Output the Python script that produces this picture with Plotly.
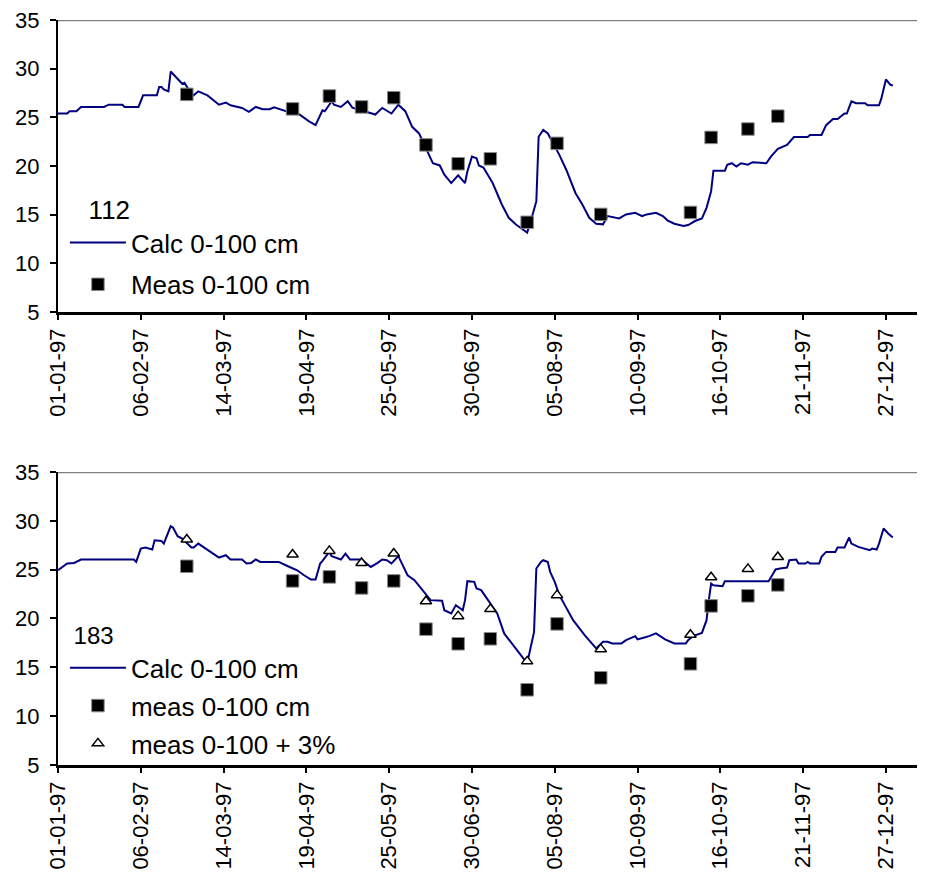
import pandas as pd
import plotly.graph_objects as go
from plotly.subplots import make_subplots

START = pd.Timestamp("1997-01-01")

# ---- Data (day offsets from 01-01-97, values in vol%) ----
meas_days = [56, 102, 118, 132, 146, 160, 174, 188, 204, 217, 236, 275, 284, 300, 313]

# Site 112
calc112_days = [0, 4, 5, 8, 10, 20, 22, 28, 29, 35, 37, 43, 44, 45, 46, 48, 49, 51, 54, 55, 57, 59,
                61, 65, 70, 73, 75, 80, 83, 86, 89, 92, 94, 100, 105, 109, 112, 115, 116, 119, 120,
                123, 126, 128, 133, 138, 141, 145, 148, 151, 154, 157, 160, 163, 166, 168, 171, 174,
                177, 178, 180, 182, 183, 185, 189, 193, 196, 199, 202, 204, 206, 208, 209, 210, 211,
                213, 215, 218, 221, 225, 228, 231, 234, 237, 239, 244, 247, 251, 254, 256, 260, 263,
                265, 268, 272, 274, 277, 280, 282, 284, 285, 290, 291, 293, 295, 297, 300, 302, 308,
                310, 313, 317, 320, 326, 327, 332, 334, 337, 339, 342, 343, 345, 347, 351, 352, 357,
                358, 360, 362, 363]
calc112_vals = [25.39, 25.39, 25.63, 25.63, 26.07, 26.07, 26.30, 26.30, 26.07, 26.07, 27.26, 27.26,
                28.11, 28.11, 27.87, 27.67, 29.71, 29.23, 28.45, 28.55, 27.77, 27.26, 27.67, 27.26,
                26.30, 26.51, 26.24, 25.97, 25.56, 26.07, 25.84, 25.84, 26.04, 25.56, 25.29, 24.61,
                24.20, 25.73, 25.63, 26.65, 26.30, 26.07, 26.65, 26.00, 25.63, 25.29, 25.97, 25.39,
                26.30, 25.63, 24.03, 23.35, 21.82, 20.29, 20.06, 19.11, 18.25, 19.04, 18.25, 19.44,
                20.97, 20.80, 20.06, 19.85, 18.25, 16.05, 14.68, 14.01, 13.50, 13.16, 14.68, 16.39,
                23.01, 23.35, 23.70, 23.35, 22.50, 21.15, 19.62, 17.23, 16.05, 14.68, 14.07, 14.01,
                14.86, 14.62, 15.03, 15.19, 14.86, 15.03, 15.19, 14.86, 14.42, 14.07, 13.84, 13.94,
                14.35, 14.62, 15.70, 17.41, 19.52, 19.52, 20.13, 20.29, 19.95, 20.29, 20.13, 20.39,
                20.29, 20.97, 21.76, 22.17, 22.98, 22.98, 23.19, 23.19, 24.20, 24.82, 24.82, 25.39,
                25.39, 26.65, 26.45, 26.45, 26.24, 26.24, 26.92, 28.89, 28.34, 28.28]
meas112_vals = [27.36, 25.87, 27.19, 26.07, 27.02, 22.17, 20.23, 20.74, 14.22, 22.33, 15.03,
                15.23, 22.94, 23.80, 25.12]

# Site 183
calc183_days = [0, 1, 4, 7, 8, 10, 33, 34, 36, 38, 41, 42, 45, 46, 49, 50, 52, 54, 58, 59, 61, 65,
                70, 73, 75, 80, 82, 84, 86, 88, 92, 96, 100, 104, 107, 110, 112, 114, 115, 118, 119,
                123, 125, 127, 132, 136, 139, 141, 143, 145, 148, 152, 155, 159, 162, 167, 168, 171,
                173, 176, 177, 178, 181, 182, 184, 187, 191, 194, 199, 204, 207, 208, 210, 211, 213,
                214, 216, 218, 224, 229, 234, 237, 239, 241, 245, 247, 251, 252, 255, 257, 260, 262,
                264, 268, 273, 274, 276, 280, 282, 283, 284, 285, 289, 290, 309, 311, 312, 314, 317,
                318, 321, 322, 325, 326, 327, 331, 332, 334, 338, 339, 342, 344, 345, 348, 351, 353,
                354, 356, 357, 359, 361, 363]
calc183_vals = [24.94, 25.12, 25.63, 25.69, 25.79, 26.04, 26.04, 25.79, 27.16, 27.27, 27.06, 28.01,
                27.94, 27.67, 29.44, 29.31, 28.42, 28.19, 27.27, 27.27, 27.67, 27.06, 26.24, 26.48,
                26.04, 26.04, 25.63, 25.69, 26.04, 25.79, 25.79, 25.79, 25.35, 24.94, 24.43, 23.99,
                23.99, 25.63, 25.90, 26.82, 26.38, 26.04, 26.65, 26.04, 26.04, 25.28, 25.69, 26.04,
                25.97, 25.63, 26.38, 24.43, 23.92, 22.73, 21.88, 21.81, 20.85, 20.52, 21.37, 20.85,
                21.88, 23.82, 23.75, 23.07, 22.90, 21.88, 20.52, 18.47, 16.94, 15.40, 18.63, 25.12,
                25.79, 25.97, 25.79, 24.77, 23.75, 22.39, 19.83, 18.30, 16.94, 17.61, 17.61, 17.45,
                17.45, 17.78, 18.19, 17.86, 18.06, 18.19, 18.47, 18.12, 17.86, 17.45, 17.45, 17.78,
                18.19, 18.53, 19.83, 21.88, 23.58, 23.40, 23.31, 23.82, 23.82, 24.61, 25.02, 25.12,
                25.22, 25.97, 26.04, 25.63, 25.63, 25.79, 25.63, 25.63, 26.31, 26.82, 26.82, 27.27,
                27.27, 28.29, 27.67, 27.33, 27.16, 26.99, 27.16, 27.06, 27.67, 29.21, 28.70, 28.29]
meas183_vals = [25.35, 23.85, 24.26, 23.13, 23.85, 18.91, 17.41, 17.92, 12.70, 19.45, 13.93,
                15.36, 21.29, 22.32, 23.44]
meas183_plus3 = [28.08, 26.55, 26.92, 25.69, 26.65, 21.77, 20.24, 20.96, 15.61, 22.39, 16.86,
                 18.33, 24.23, 25.08, 26.30]

site_labels = ["112", "183"]


def to_dates(days):
    return START + pd.to_timedelta(days, unit="D")


LINE_COLOR = "#000080"
FONT = "Liberation Sans, Arial, sans-serif"
NBSP = "\u00a0"

fig = make_subplots(rows=2, cols=1, shared_xaxes=False, vertical_spacing=0.0)

# top panel
fig.add_trace(go.Scatter(x=to_dates(calc112_days), y=calc112_vals, mode="lines",
                         line=dict(color=LINE_COLOR, width=2), name="Calc 0-100 cm",
                         legend="legend", legendgroup="a"), row=1, col=1)
fig.add_trace(go.Scatter(x=to_dates(meas_days), y=meas112_vals, mode="markers",
                         marker=dict(symbol="square", size=12.5, color="black",
                                     line=dict(color="#8a8a8a", width=1)),
                         name="Meas 0-100 cm", legend="legend", legendgroup="b"), row=1, col=1)

# bottom panel
fig.add_trace(go.Scatter(x=to_dates(calc183_days), y=calc183_vals, mode="lines",
                         line=dict(color=LINE_COLOR, width=2), name="Calc 0-100 cm",
                         legend="legend2", legendgroup="c"), row=2, col=1)
fig.add_trace(go.Scatter(x=to_dates(meas_days), y=meas183_vals, mode="markers",
                         marker=dict(symbol="square", size=12.5, color="black",
                                     line=dict(color="#8a8a8a", width=1)),
                         name="meas 0-100 cm", legend="legend2", legendgroup="d"), row=2, col=1)
fig.add_trace(go.Scatter(x=to_dates(meas_days), y=meas183_plus3, mode="markers",
                         marker=dict(symbol="triangle-up", size=10, color="white",
                                     line=dict(color="black", width=1.5)),
                         name="meas 0-100 + 3%", legend="legend2", legendgroup="e"), row=2, col=1)

x_end = START + pd.Timedelta(days=377)
xaxis_common = dict(
    type="date", range=[START, x_end], tick0=START, dtick=36 * 86400000,
    tickformat="%d-%m-%y", tickangle=-90, ticks="outside", ticklen=5, tickwidth=1.5,
    tickcolor="black", showline=True, linecolor="black", linewidth=2.5, showgrid=False,
    zeroline=False, automargin=False, ticklabeloverflow="allow",
    tickfont=dict(family=FONT, size=22, color="black"),
)
yaxis_common = dict(
    range=[5, 35], dtick=5, tick0=5, ticks="outside", ticklen=6, tickwidth=1.5,
    tickcolor="black", showline=True, linecolor="black", linewidth=2, showgrid=False,
    zeroline=False, automargin=False, ticklabelstandoff=6, ticklabeloverflow="allow",
    tickfont=dict(family=FONT, size=22, color="black"),
)

# the page body adds an 8px offset; figure is sized so the plot lands where the reference has it
fig.update_layout(
    width=917, height=871,
    margin=dict(l=50, r=0, t=12, b=114),
    paper_bgcolor="white", plot_bgcolor="white",
    font=dict(family=FONT, color="black"),
    xaxis=dict(domain=[0, 1], anchor="y", **xaxis_common),
    yaxis=dict(domain=[0.608, 1.0], anchor="x", **yaxis_common),
    xaxis2=dict(domain=[0, 1], anchor="y2", **xaxis_common),
    yaxis2=dict(domain=[0.0, 0.3933], anchor="x2", **yaxis_common),
    legend=dict(x=0.008, y=0.7781, xanchor="left", yanchor="top", bgcolor="rgba(0,0,0,0)",
                traceorder="grouped", tracegroupgap=5, itemwidth=56,
                title=dict(text=NBSP * 3 + site_labels[0], font=dict(family=FONT, size=26)),
                font=dict(family=FONT, size=26, color="black")),
    legend2=dict(x=0.008, y=0.2038, xanchor="left", yanchor="top", bgcolor="rgba(0,0,0,0)",
                 traceorder="grouped", tracegroupgap=1, itemwidth=56,
                 title=dict(text=NBSP + site_labels[1], font=dict(family=FONT, size=24)),
                 font=dict(family=FONT, size=26, color="black")),
    shapes=[
        dict(type="line", xref="x domain", yref="y", x0=0, x1=1, y0=35, y1=35,
             line=dict(color="#808080", width=2.5), layer="below"),
        dict(type="line", xref="x2 domain", yref="y2", x0=0, x1=1, y0=35, y1=35,
             line=dict(color="#808080", width=2.5), layer="below"),
    ],
    showlegend=True,
)

fig.write_html("out.html")
